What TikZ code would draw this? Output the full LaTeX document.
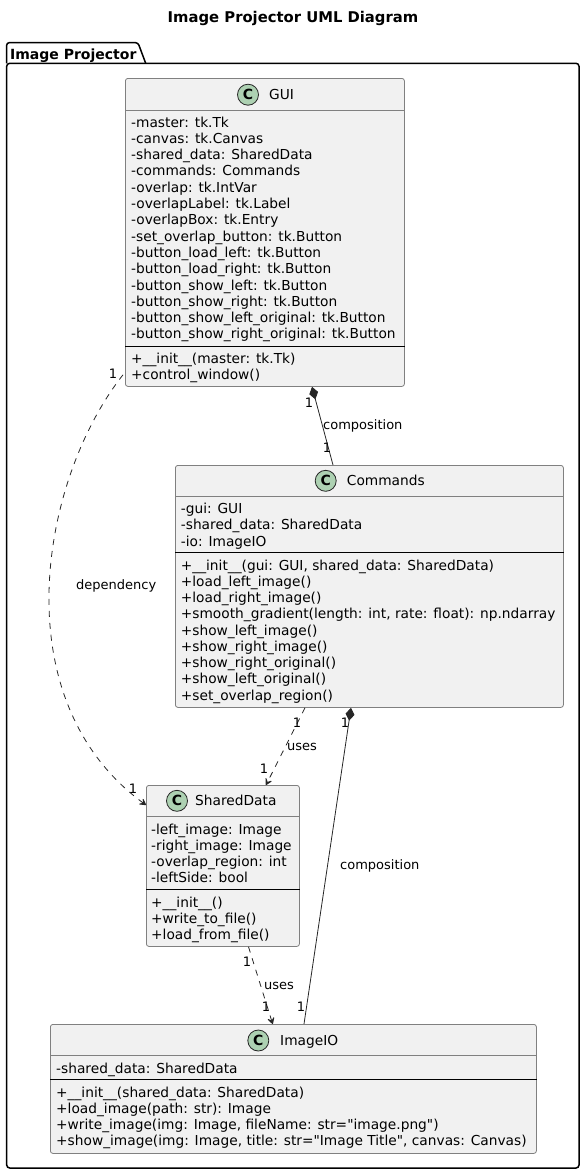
\documentclass[tikz,border=0pt]{standalone}
\usepackage{fontspec}
\setmainfont{DejaVu Sans}[Ligatures=TeXOff]
\usetikzlibrary{arrows.meta,calc}
\definecolor{cfill}{HTML}{F1F1F1}
\definecolor{cborder}{HTML}{808080}
\definecolor{circfill}{HTML}{ADD1B2}
\newcommand{\dq}{\char34 }
\begin{document}
\begin{tikzpicture}[x=1pt,y=-1pt,
  classbox/.style={draw=cborder,fill=cfill,line width=0.8pt,rounded corners=2.5pt,inner sep=0pt,anchor=north west},
  member/.style={anchor=base west,inner sep=0pt,font=\fontsize{13.75}{16}\selectfont},
  cname/.style={anchor=base west,inner sep=0pt,font=\fontsize{13.75}{16}\selectfont},
  badge/.style={circle,draw=black!85,fill=circfill,line width=0.8pt,minimum size=21pt,inner sep=0pt,font=\bfseries\fontsize{14}{16}\selectfont},
  hdrline/.style={draw=cborder,line width=0.8pt},
  sepline/.style={draw=black,line width=1pt},
  elabel/.style={inner sep=0pt,font=\fontsize{13}{15}\selectfont},
  dep/.style={draw=black!85,line width=0.8pt,dash pattern=on 6pt off 6pt,-{Stealth[length=9pt,width=10pt,inset=5pt,line width=1pt,round]}},
  comp/.style={draw=black!85,line width=0.8pt,{Diamond[length=13pt,width=9pt]}-}
]
\useasboundingbox (0,0) rectangle (586,1175);
% title
\node[inner sep=0pt,font=\bfseries\fontsize{14.8}{17}\selectfont] (title) at (293,18) {Image Projector UML Diagram};
% package
\draw[line width=1.5pt,fill=white,rounded corners=2.5pt] (6.7,63.3) -- (6.7,42.7) -- (138,42.7) -- (145.7,63.3);
\draw[line width=1.5pt,rounded corners=3pt] (6.7,63.3) -- (579,63.3) -- (579,1168) -- (6.7,1168) -- cycle;
\node[anchor=base west,inner sep=0pt,font=\bfseries\fontsize{14}{16}\selectfont] (pkgname) at (10,59) {Image Projector};

% ---------- GUI ----------
\node[classbox,minimum width=279pt,minimum height=308pt] (gui) at (125,78) {};
\node[badge] (guic) at (248,94.7) {C};
\node[cname] (guin) at (269,99.7) {GUI};
\draw[hdrline] ($(gui.north west)+(0,32.7)$) -- ($(gui.north east)+(0,32.7)$);
\foreach \t [count=\i] in {-master: tk.Tk,-canvas: tk.Canvas,-shared\_data: SharedData,-commands: Commands,-overlap: tk.IntVar,-overlapLabel: tk.Label,-overlapBox: tk.Entry,-set\_overlap\_button: tk.Button,-button\_load\_left: tk.Button,-button\_load\_right: tk.Button,-button\_show\_left: tk.Button,-button\_show\_right: tk.Button,-button\_show\_left\_original: tk.Button,-button\_show\_right\_original: tk.Button}
  \node[member] (gui-a\i) at (131,{127+(\i-1)*16.3}) {\t};
\draw[sepline] ($(gui.north west)+(0,268.7)$) -- ($(gui.north east)+(0,268.7)$);
\foreach \t [count=\i] in {+\_\_init\_\_(master: tk.Tk),+control\_window()}
  \node[member] (gui-m\i) at (131,{363+(\i-1)*16.5}) {\t};

% ---------- Commands ----------
\node[classbox,minimum width=388pt,minimum height=242pt] (cmd) at (175,465) {};
\node[badge] (cmdc) at (325.7,480.8) {C};
\node[cname] (cmdn) at (346.7,485.8) {Commands};
\draw[hdrline] ($(cmd.north west)+(0,31.7)$) -- ($(cmd.north east)+(0,31.7)$);
\foreach \t [count=\i] in {-gui: GUI,-shared\_data: SharedData,-io: ImageIO}
  \node[member] (cmd-a\i) at (180.7,{513+(\i-1)*16.5}) {\t};
\draw[sepline] ($(cmd.north west)+(0,87.7)$) -- ($(cmd.north east)+(0,87.7)$);
\foreach \t [count=\i] in {{+\_\_init\_\_(gui: GUI, shared\_data: SharedData)},+load\_left\_image(),+load\_right\_image(),{+smooth\_gradient(length: int, rate: float): np.ndarray},+show\_left\_image(),+show\_right\_image(),+show\_right\_original(),+show\_left\_original(),+set\_overlap\_region()}
  \node[member] (cmd-m\i) at (180.7,{570+(\i-1)*16.25}) {\t};

% ---------- SharedData ----------
\node[classbox,minimum width=153pt,minimum height=161pt] (sd) at (146,785) {};
\node[badge] (sdc) at (177,800.8) {C};
\node[cname] (sdn) at (195,805.8) {SharedData};
\draw[hdrline] ($(sd.north west)+(0,31.7)$) -- ($(sd.north east)+(0,31.7)$);
\foreach \t [count=\i] in {-left\_image: Image,-right\_image: Image,-overlap\_region: int,-leftSide: bool}
  \node[member] (sd-a\i) at (151,{834+(\i-1)*16.3}) {\t};
\draw[sepline] ($(sd.north west)+(0,104)$) -- ($(sd.north east)+(0,104)$);
\foreach \t [count=\i] in {+\_\_init\_\_(),+write\_to\_file(),+load\_from\_file()}
  \node[member] (sd-m\i) at (151,{907+(\i-1)*16.3}) {\t};

% ---------- ImageIO ----------
\node[classbox,minimum width=486pt,minimum height=129pt] (io) at (50,1024) {};
\node[badge] (ioc) at (258.3,1040.5) {C};
\node[cname] (ion) at (280,1045.5) {ImageIO};
\draw[hdrline] ($(io.north west)+(0,31)$) -- ($(io.north east)+(0,31)$);
\node[member] (io-a1) at (56,1073) {-shared\_data: SharedData};
\draw[sepline] ($(io.north west)+(0,55)$) -- ($(io.north east)+(0,55)$);
\foreach \t [count=\i] in {+\_\_init\_\_(shared\_data: SharedData),+load\_image(path: str): Image,{+write\_image(img: Image, fileName: str=\dq image.png\dq)},{+show\_image(img: Image, title: str=\dq Image Title\dq, canvas: Canvas)}}
  \node[member] (io-m\i) at (56,{1097+(\i-1)*16.3}) {\t};

% ---------- connectors ----------
% GUI -> SharedData dependency
\draw[dep] ($(gui.south west)+(-2,-12)$) .. controls (40,480) and (2,700) .. ($(sd.north west)+(0,20)$);
\node[elabel] (l1a) at (113,374) {1};
\node[elabel] (l1b) at (133,789) {1};
\node[elabel,anchor=west] (l1t) at (76,586) {dependency};
% GUI -> Commands composition
\draw[comp] ($(gui.south west)+(187,0)$) -- ($(cmd.north west)+(158,0)$);
\node[elabel] (l2a) at (309,403) {1};
\node[elabel] (l2b) at (327,448) {1};
\node[elabel,anchor=west] (l2t) at (323,426) {composition};
% Commands -> SharedData uses
\draw[dep] ($(cmd.south west)+(130,0)$) -- ($(sd.north west)+(120,0)$);
\node[elabel] (l3a) at (297,723) {1};
\node[elabel] (l3b) at (264,769) {1};
\node[elabel,anchor=west] (l3t) at (287,747) {uses};
% Commands -> ImageIO composition
\draw[comp] ($(cmd.south west)+(176,0)$) -- ($(io.north west)+(254,0)$);
\node[elabel] (l4a) at (345,723) {1};
\node[elabel] (l4b) at (301,1007) {1};
\node[elabel,anchor=west] (l4t) at (340,866) {composition};
% SharedData -> ImageIO uses
\draw[dep] ($(sd.south west)+(102.5,0)$) -- ($(io.north west)+(222.7,0)$);
\node[elabel] (l5a) at (247,962) {1};
\node[elabel] (l5b) at (266,1007) {1};
\node[elabel,anchor=west] (l5t) at (264,986) {uses};
\end{tikzpicture}
\end{document}
